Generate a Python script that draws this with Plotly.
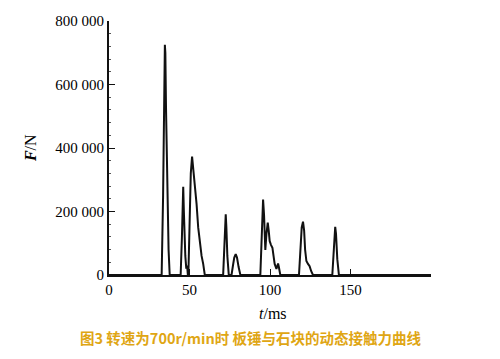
import plotly.graph_objects as go

# Time (ms) and contact force (N)
t_ms = [0, 32.7, 33.6, 34.2, 34.5, 34.7, 35.0, 35.4, 36.2, 37.0, 37.7,
        44.5, 45.3, 45.8, 46.1, 46.5, 46.9, 47.4, 48.0, 48.5, 49.0,
        49.3, 50.0, 50.8, 51.6, 52.3, 53.2, 54.4, 55.4, 56.4, 57.5, 58.5, 59.5,
        70.9, 71.7, 72.2, 72.5, 72.9, 73.5, 74.4,
        76.1, 77.0, 77.8, 78.7, 79.5, 80.5, 81.6,
        94.0, 94.6, 95.2, 95.7, 96.3, 97.1, 97.8, 98.6, 99.2, 99.8, 100.6,
        101.5, 102.2, 102.9, 104.0, 105.0, 105.5, 106.4,
        118.0, 118.8, 119.7, 120.5, 121.2, 121.8, 122.6, 123.6, 124.6, 125.6, 126.7,
        138.7, 139.5, 140.0, 140.5, 141.0, 141.8, 142.8, 200]
force_N = [0, 0, 250000, 529000, 600000, 725000, 700000, 530000, 280000, 80000, 0,
           0, 120000, 240000, 278000, 200000, 90000, 60000, 20000, 30000, 0,
           0, 150000, 320000, 373000, 340000, 280000, 223000, 150000, 98000, 60000, 35000, 0,
           0, 100000, 170000, 191000, 150000, 60000, 0,
           0, 30000, 55000, 66000, 55000, 25000, 0,
           0, 110000, 200000, 238000, 190000, 79000, 130000, 165000, 140000, 107000, 95000,
           86000, 60000, 35000, 19000, 36000, 25000, 0,
           0, 80000, 150000, 168000, 140000, 80000, 44000, 35000, 28000, 12000, 0,
           0, 90000, 140000, 152000, 130000, 50000, 0, 0]

x_ticks = [0, 50, 100, 150]
y_ticks = [0, 200000, 400000, 600000, 800000]
y_tick_text = ["0", "200 000", "400 000", "600 000", "800 000"]

x_title = "<i>t</i>/ms"
y_title = "<b><i>F</i></b>/N"
caption = "图3 转速为700r/min时 板锤与石块的动态接触力曲线"

fig = go.Figure()
fig.add_trace(go.Scatter(x=t_ms, y=force_N, mode="lines",
                         line=dict(color="#111111", width=2), showlegend=False))

serif = "Liberation Serif, Times New Roman, serif"

fig.update_layout(
    width=500, height=359,
    margin=dict(l=101, r=77, t=13, b=92),
    paper_bgcolor="white", plot_bgcolor="white",
    font=dict(family=serif, size=15, color="#000000"),
    xaxis=dict(range=[0, 200], tickvals=x_ticks, ticks="inside", ticklen=6,
               tickcolor="#111", showline=True, linecolor="#111", linewidth=2,
               showgrid=False, zeroline=False, automargin=False),
    yaxis=dict(range=[0, 800000], tickvals=y_ticks, ticktext=y_tick_text,
               ticks="inside", ticklen=6, tickcolor="#111",
               showline=True, linecolor="#111", linewidth=2,
               showgrid=False, zeroline=False, automargin=False,
               minor=dict(ticks="inside", ticklen=2, dtick=40000, tickcolor="#555")),
    annotations=[
        dict(text=x_title, xref="paper", yref="paper", x=0.509, y=-0.15,
             xanchor="center", yanchor="middle", showarrow=False,
             font=dict(family=serif, size=16, color="#000")),
        dict(text=y_title, xref="paper", yref="paper", x=-0.245, y=0.5,
             xanchor="center", yanchor="middle", showarrow=False, textangle=-90,
             font=dict(family=serif, size=16, color="#000")),
        dict(text="<b>" + caption + "</b>", xref="paper", yref="paper",
             x=0.438, y=-0.248, xanchor="center", yanchor="middle",
             showarrow=False,
             font=dict(family="Noto Sans CJK SC", size=14.5, color="#DFA614")),
    ],
)

fig.write_html("out.html")
